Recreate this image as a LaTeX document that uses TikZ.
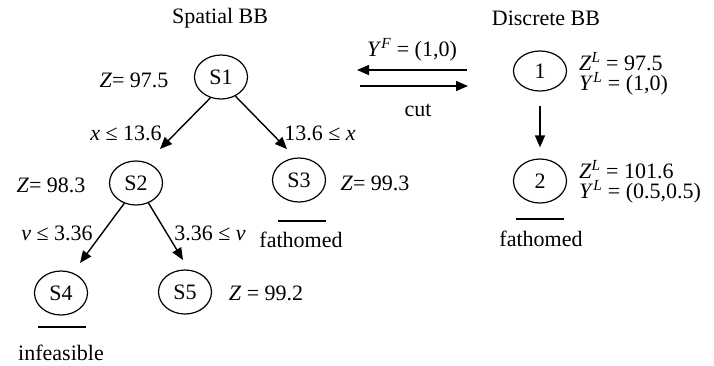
\documentclass[tikz,border=0pt]{standalone}
\usepackage{fontspec}
\setmainfont{Liberation Serif}
\usetikzlibrary{arrows.meta,shapes.geometric,calc}

\begin{document}
\begin{tikzpicture}[x=1pt,y=-1pt, every node/.style={font=\fontsize{22}{26}\selectfont},
  bbnode/.style={draw,ellipse,line width=1.2pt,minimum width=53pt,minimum height=44pt,inner sep=0pt},
  branch/.style={-{Triangle[length=12pt,width=10pt]},line width=1.4pt},
  flag/.style={line width=2pt},
  bounds/.style={anchor=west,align=left,inner sep=0pt,font=\fontsize{22}{20}\selectfont}]
  \useasboundingbox (0,0) rectangle (714,365);
  % Titles
  \node (spatial) at (220,18) {Spatial BB};
  \node (discrete) at (546,18) {Discrete BB};

  % Spatial tree
  \node[bbnode] (s1) at (221,77) {S1};
  \node[bbnode] (s2) at (136,183) {S2};
  \node[bbnode] (s3) at (299,180) {S3};
  \node[bbnode] (s4) at (61,293) {S4};
  \node[bbnode] (s5) at (185,292) {S5};
  \draw[branch] (s1.-117) -- ($(s2)+(24,-34)$);
  \draw[branch] (s1.-53) -- ($(s3)+(-12,-31)$);
  \draw[branch] (s2.-120) -- ($(s4)+(19,-30)$);
  \draw[branch] (s2.-58) -- ($(s5)+(-2,-32)$);

  % Bounds and branching rules
  \node (z1) at (134,80) {\textit{Z}= 97.5};
  \node (z2) at (51,185) {\textit{Z}= 98.3};
  \node (z3) at (375,183) {\textit{Z}= 99.3};
  \node (z5) at (266,293) {\textit{Z} = 99.2};
  \node (b1) at (126,133) {\textit{x} ≤ 13.6};
  \node (b2) at (320,133) {13.6 ≤ \textit{x}};
  \node (b3) at (57,233) {\textit{v} ≤ 3.36};
  \node (b4) at (210,233) {3.36 ≤ \textit{v}};

  % Leaf status
  \draw[flag] (278,221) coordinate (f3a) -- (326,221) coordinate (f3b);
  \node (fath3) at (301,240) {fathomed};
  \draw[flag] (38,327) coordinate (f4a) -- (86,327) coordinate (f4b);
  \node (infeas) at (61,353) {infeasible};

  % Exchange between the two trees
  \coordinate (xl) at (357,70);
  \coordinate (xr) at (467,70);
  \coordinate (cl) at (360,86);
  \coordinate (cr) at (468,86);
  \draw[branch] (xr) -- (xl);
  \draw[branch] (cl) -- (cr);
  \node (yf) at (412,50) {\textit{Y}\textsuperscript{\textit{F}} = (1,0)};
  \node (cut) at (418,110) {cut};

  % Discrete tree
  \node[bbnode,minimum height=40pt] (d1) at (540,71) {1};
  \node[bbnode] (d2) at (540,181) {2};
  \draw[branch,shorten <=14pt,shorten >=11pt] (d1) -- (d2);
  \node[bounds] (bd1) at (579,74)
    {\textit{Z}\textsuperscript{\textit{L}} = 97.5\\\textit{Y}\textsuperscript{\textit{L}} = (1,0)};
  \node[bounds] (bd2) at (579,182)
    {\textit{Z}\textsuperscript{\textit{L}} = 101.6\\\textit{Y}\textsuperscript{\textit{L}} = (0.5,0.5)};
  \draw[flag] (516,219) coordinate (f2a) -- (564,219) coordinate (f2b);
  \node (fath2) at (541,239) {fathomed};
\end{tikzpicture}
\end{document}
